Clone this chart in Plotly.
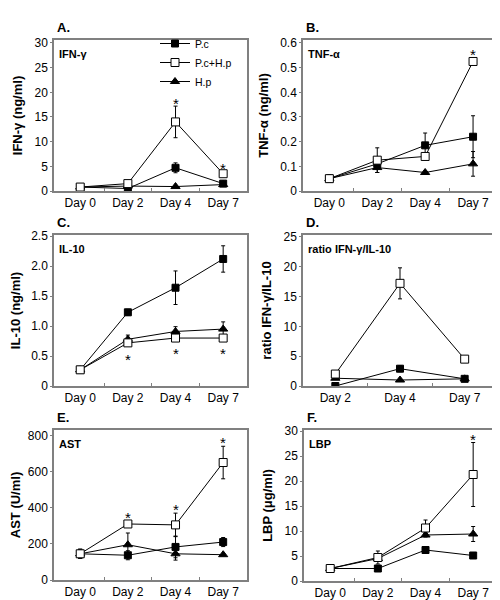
import plotly.graph_objects as go

# ---------------- data ----------------
days4 = ["Day 0", "Day 2", "Day 4", "Day 7"]
days3 = ["Day 2", "Day 4", "Day 7"]
series_names = ["P.c", "P.c+H.p", "H.p"]

# A. IFN-gamma (ng/ml)
ifn_pc = [0.8, 0.5, 4.7, 1.5]
ifn_pc_err = [0.0, 0.0, 1.0, 0.3]
ifn_pchp = [0.8, 1.5, 14.0, 3.5]
ifn_pchp_err = [0.0, 0.0, 3.2, 0.0]
ifn_hp = [0.8, 1.0, 0.9, 1.3]
ifn_hp_err = [0.0, 0.0, 0.0, 0.2]
ifn_star_x = ["Day 4", "Day 7"]
ifn_star_y = [18.3, 5.2]

# B. TNF-alpha (ng/ml)
tnf_pc = [0.05, 0.11, 0.185, 0.22]
tnf_pc_err = [0.015, 0.02, 0.05, 0.085]
tnf_pchp = [0.05, 0.125, 0.14, 0.525]
tnf_pchp_err = [0.015, 0.05, 0.0, 0.0]
tnf_hp = [0.05, 0.095, 0.075, 0.11]
tnf_hp_err = [0.01, 0.02, 0.0, 0.05]
tnf_star_x = ["Day 7"]
tnf_star_y = [0.565]

# C. IL-10 (ng/ml)
il10_pc = [0.27, 1.23, 1.64, 2.12]
il10_pc_err = [0.0, 0.05, 0.28, 0.22]
il10_pchp = [0.27, 0.72, 0.80, 0.80]
il10_pchp_err = [0.0, 0.0, 0.0, 0.0]
il10_hp = [0.27, 0.78, 0.91, 0.95]
il10_hp_err = [0.0, 0.07, 0.08, 0.12]
il10_star_x = ["Day 2", "Day 4", "Day 7"]
il10_star_y = [0.5, 0.6, 0.6]

# D. ratio IFN-gamma / IL-10
ratio_pc = [0.0, 2.9, 1.2]
ratio_pc_err = [0.0, 0.5, 0.3]
ratio_pchp = [2.0, 17.2, 4.5]
ratio_pchp_err = [0.0, 2.6, 0.4]
ratio_hp = [1.3, 1.0, 1.2]
ratio_hp_err = [0.0, 0.0, 0.0]

# E. AST (U/ml)
ast_pc = [145, 137, 183, 210]
ast_pc_err = [25, 25, 60, 25]
ast_pchp = [145, 310, 305, 650]
ast_pchp_err = [25, 0, 65, 90]
ast_hp = [145, 195, 145, 140]
ast_hp_err = [25, 65, 35, 0]
ast_star_x = ["Day 2", "Day 4", "Day 7"]
ast_star_y = [360, 405, 775]

# F. LBP (ug/ml)
lbp_pc = [2.5, 2.5, 6.2, 5.1]
lbp_pc_err = [0.0, 0.0, 0.0, 0.6]
lbp_pchp = [2.5, 4.7, 10.6, 21.3]
lbp_pchp_err = [0.0, 1.3, 1.6, 6.4]
lbp_hp = [2.5, 4.5, 9.2, 9.4]
lbp_hp_err = [0.0, 0.6, 0.4, 1.5]
lbp_star_x = ["Day 7"]
lbp_star_y = [29]

# tick labels
ticks_a = [0, 5, 10, 15, 20, 25, 30]
ticks_b = [0, 0.1, 0.2, 0.3, 0.4, 0.5, 0.6]
ticktext_b = ["0", "0.1", "0.2", "0.3", "0.4", "0.5", "0.6"]
ticks_c = [0, 0.5, 1.0, 1.5, 2.0, 2.5]
ticktext_c = ["0", "0.5", "1.0", "1.5", "2.0", "2.5"]
ticks_d = [0, 5, 10, 15, 20, 25]
ticks_e = [0, 200, 400, 600, 800]
ticks_f = [0, 5, 10, 15, 20, 25, 30]

# ---------------- layout helpers ----------------
W, H = 500, 600
FONT = "Liberation Sans, Arial, Helvetica, sans-serif"

def dx(px):
    return px / W

def dy(px):
    return 1 - px / H

panels = [
    dict(k="A", box=(46, 32, 239, 183), cats=days4,
         ys=[ifn_pc, ifn_pchp, ifn_hp], es=[ifn_pc_err, ifn_pchp_err, ifn_hp_err],
         sx=ifn_star_x, sy=ifn_star_y, ylab="<b>IFN-γ (ng/ml)</b>", inner="<b>IFN-γ</b>",
         yr=[0, 30.6], tv=ticks_a, tt=[str(t) for t in ticks_a]),
    dict(k="B", box=(295, 32, 489, 183), cats=days4,
         ys=[tnf_pc, tnf_pchp, tnf_hp], es=[tnf_pc_err, tnf_pchp_err, tnf_hp_err],
         sx=tnf_star_x, sy=tnf_star_y, ylab="<b>TNF-α (ng/ml)</b>", inner="<b>TNF-α</b>",
         yr=[0, 0.612], tv=ticks_b, tt=ticktext_b),
    dict(k="C", box=(46, 227, 239, 378), cats=days4,
         ys=[il10_pc, il10_pchp, il10_hp], es=[il10_pc_err, il10_pchp_err, il10_hp_err],
         sx=il10_star_x, sy=il10_star_y, ylab="<b>IL-10 (ng/ml)</b>", inner="<b>IL-10</b>",
         yr=[0, 2.52], tv=ticks_c, tt=ticktext_c),
    dict(k="D", box=(295, 227, 489, 378), cats=days3,
         ys=[ratio_pc, ratio_pchp, ratio_hp], es=[ratio_pc_err, ratio_pchp_err, ratio_hp_err],
         sx=[], sy=[], ylab="<b>ratio IFN-γ/IL-10</b>", inner="<b>ratio IFN-γ/IL-10</b>",
         yr=[0, 25.3], tv=ticks_d, tt=[str(t) for t in ticks_d]),
    dict(k="E", box=(46, 422, 239, 572), cats=days4,
         ys=[ast_pc, ast_pchp, ast_hp], es=[ast_pc_err, ast_pchp_err, ast_hp_err],
         sx=ast_star_x, sy=ast_star_y, ylab="<b>AST (U/ml)</b>", inner="<b>AST</b>",
         yr=[0, 830], tv=ticks_e, tt=[str(t) for t in ticks_e]),
    dict(k="F", box=(296, 422, 489, 573), cats=days4,
         ys=[lbp_pc, lbp_pchp, lbp_hp], es=[lbp_pc_err, lbp_pchp_err, lbp_hp_err],
         sx=lbp_star_x, sy=lbp_star_y, ylab="<b>LBP (μg/ml)</b>", inner="<b>LBP</b>",
         yr=[0, 30.2], tv=ticks_f, tt=[str(t) for t in ticks_f]),
]

markers = [
    dict(symbol="square", size=7, color="black", line=dict(color="black", width=1)),
    dict(symbol="square", size=8, color="white", line=dict(color="black", width=1)),
    dict(symbol="triangle-up", size=8, color="black", line=dict(color="black", width=1)),
]

fig = go.Figure()
annotations = []

for i, p in enumerate(panels):
    n = i + 1
    xa = "x" if n == 1 else f"x{n}"
    ya = "y" if n == 1 else f"y{n}"
    l, t, r, b = p["box"]
    ncat = len(p["cats"])
    for si in [0, 2, 1]:
        fig.add_trace(go.Scatter(
            x=p["cats"], y=p["ys"][si], xaxis=xa, yaxis=ya,
            mode="lines+markers", name=series_names[si],
            line=dict(color="black", width=1),
            marker=markers[si],
            error_y=dict(type="data", array=p["es"][si], color="black",
                         thickness=1, width=2),
            showlegend=(n == 1), legendrank=si,
        ))
    for sx, sy in zip(p["sx"], p["sy"]):
        annotations.append(dict(x=sx, y=sy, xref=xa, yref=ya, text="*", yshift=-3,
                                showarrow=False, font=dict(size=15, color="black", family=FONT)))
    annotations.append(dict(x=dx(l + 1), y=dy(t - 3), xref="paper", yref="paper",
                            text=f"<b>{p['k']}.</b>", showarrow=False, xanchor="left",
                            yanchor="bottom", font=dict(size=13, color="black", family=FONT)))
    annotations.append(dict(x=dx(l + 3), y=dy(t + 14), xref="paper", yref="paper",
                            text=p["inner"], showarrow=False, xanchor="left", yanchor="middle",
                            font=dict(size=11, color="black", family=FONT)))

    xkey = "xaxis" if n == 1 else f"xaxis{n}"
    ykey = "yaxis" if n == 1 else f"yaxis{n}"
    xr = [-0.55, ncat - 0.5] if ncat == 4 else [-0.5, ncat - 0.5]
    fig.update_layout(**{
        xkey: dict(domain=[dx(l), dx(r)], anchor=ya, type="category",
                   categoryorder="array", categoryarray=p["cats"],
                   range=xr, showline=True, mirror=True, linecolor="#808080",
                   linewidth=1.5, showgrid=False, zeroline=False, ticks="",
                   tickfont=dict(size=12, color="black", family=FONT),
                   automargin=False,
                   minor=dict(tickvals=[j + 0.5 for j in range(ncat - 1)],
                              ticks="inside", ticklen=3, tickcolor="#808080")),
        ykey: dict(domain=[dy(b), dy(t)], anchor=xa, range=p["yr"],
                   tickvals=p["tv"], ticktext=p["tt"],
                   showline=True, mirror=True, linecolor="#808080", linewidth=1.5,
                   showgrid=False, zeroline=False, ticks="outside", ticklen=2,
                   tickcolor="#808080",
                   tickfont=dict(size=12, color="black", family=FONT),
                   title=dict(text=p["ylab"], font=dict(size=13, color="black", family=FONT),
                              standoff=9),
                   automargin=False),
    })

fig.update_layout(
    width=W, height=H,
    margin=dict(l=0, r=0, t=0, b=0),
    paper_bgcolor="white", plot_bgcolor="white",
    font=dict(family=FONT, color="black"),
    annotations=annotations,
    legend=dict(x=dx(147), y=dy(21), xanchor="left", yanchor="top",
                bgcolor="rgba(0,0,0,0)", font=dict(size=10.5, color="black", family=FONT),
                tracegroupgap=0, itemwidth=30, traceorder="normal"),
)

fig.write_html("out.html")
